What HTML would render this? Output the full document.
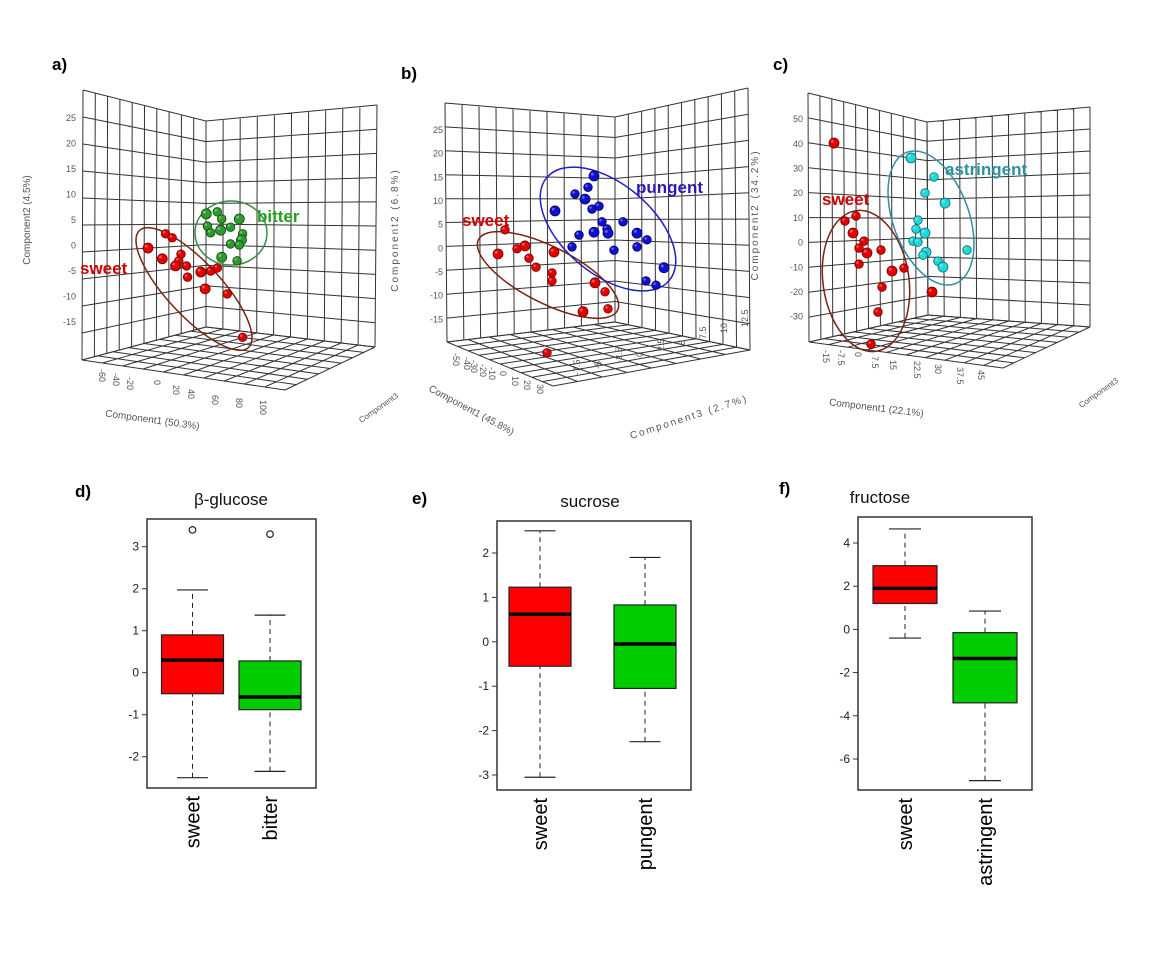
<!DOCTYPE html>
<html><head><meta charset="utf-8"><style>
html,body{margin:0;padding:0;background:#fff;}
svg{display:block;font-family:"Liberation Sans",sans-serif;}
</style></head><body>
<svg id="fig" width="1152" height="960" viewBox="0 0 1152 960" xmlns="http://www.w3.org/2000/svg">
<rect width="1152" height="960" fill="#fff"/>
<g font-weight="bold" font-size="17" fill="#000">
<text x="52" y="70">a)</text>
<text x="401" y="79">b)</text>
<text x="773" y="70">c)</text>
<text x="75" y="497">d)</text>
<text x="412" y="504">e)</text>
<text x="779" y="494">f)</text>
</g>
<g id="layer"></g>
</svg>
<script>
// ---- panel a data ----
const aSweetC1=[0,16,22,13,30,28,25,35,36,48,57,63,52,72,86];
const aSweetC2=[-0.5,2.3,1.5,-2.6,-1.7,-3,-4,-4,-6.2,-5.2,-5,-4.4,-8.5,-9.5,-18];
const aBitterC1=[53,63,67,83,54,57,66,75,86,85,75,83,67,81];
const aBitterC2=[6.2,6.6,5.2,5.2,3.8,2.5,3,3.6,2.3,1.1,0.3,0.1,-2.3,-3];
const aYTicks=[25,20,15,10,5,0,-5,-10,-15];
const aXTicks=[-60,-40,-20,0,20,40,60,80,100];
// ---- panel b data ----
const bSweetC1=[-51,-47.5,-41.5,-37.5,-35.5,-32,-23,-24,-24,-2.5,2.5,4,-8.5,-26.5];
const bSweetC2=[-1.2,3.9,-0.1,0.5,-2.1,-4,-0.8,-5.2,-6.9,-7.3,-9.2,-12.8,-13.4,-22.1];
const bPungC1=[-3,-6,-12.5,-7.5,-4,-0.5,-22.5,1,3.5,4,11.5,-10.5,-3,-14,7,18.5,23.5,18.5,32,23,28];
const bPungC2=[15.3,12.9,11.5,10.4,8.3,8.9,7.9,5.6,4.1,3.2,5.6,2.8,3.4,0.3,-0.4,3.2,1.8,0.3,-4.1,-6.9,-7.8];
const bYTicks=[25,20,15,10,5,0,-5,-10,-15];
const bXTicks=[-50,-40,-30,-20,-10,0,10,20,30];
const bZTicks=[-7.5,-5,-2.5,0,2.5,5,7.5,10,12.5];
// ---- panel c data ----
const cSweetC1=[-23,-17.5,-12,-13.5,-8,-10.5,-6.5,0.5,-10.5,6,12,1,26,-1,-4.5];
const cSweetC2=[40.3,8.7,10.8,3.9,0.6,-2.2,-4.2,-3,-8.7,-11.5,-10.3,-18,-20,-28.1,-41.1];
const cAstrC1=[15.5,27,22.5,32.5,19,18,22.5,16.5,19,23,21.5,29,31.5,43.5];
const cAstrC2=[34.3,26.6,20.1,16,9.1,5.5,3.9,0.6,0.2,-3.9,-5.1,-7.5,-9.9,-3];
const cYTicks=[50,40,30,20,10,0,-10,-20,-30];
const cXTicks=[-15,-7.5,0,7.5,15,22.5,30,37.5,45];
// ---- boxplot data: [lowWhisker,q1,median,q3,highWhisker] ----
const dGroups=["sweet","bitter"];
const dStats=[[-2.5,-0.5,0.3,0.9,1.97],[-2.35,-0.88,-0.58,0.28,1.37]];
const dOutliers=[[3.4],[3.3]];
const dTicks=[-2,-1,0,1,2,3];
const eGroups=["sweet","pungent"];
const eStats=[[-3.05,-0.55,0.62,1.23,2.5],[-2.25,-1.05,-0.05,0.83,1.9]];
const eOutliers=[[],[]];
const eTicks=[-3,-2,-1,0,1,2];
const fGroups=["sweet","astringent"];
const fStats=[[-0.4,1.2,1.9,2.95,4.65],[-7,-3.4,-1.35,-0.15,0.85]];
const fOutliers=[[],[]];
const fTicks=[-6,-4,-2,0,2,4];

const NS="http://www.w3.org/2000/svg";
const layer=document.getElementById('layer');
function mk(tag,attrs,parent){const e=document.createElementNS(NS,tag);for(const k in attrs)e.setAttribute(k,attrs[k]);(parent||layer).appendChild(e);return e;}
function lerp(a,b,t){return [a[0]+(b[0]-a[0])*t,a[1]+(b[1]-a[1])*t];}
function wall(g,p00,p10,p01,p11,nu,nv){
  let d="";
  for(let i=0;i<=nu;i++){const t=i/nu;const a=lerp(p00,p10,t),b=lerp(p01,p11,t);d+=`M${a[0]},${a[1]}L${b[0]},${b[1]}`;}
  for(let j=0;j<=nv;j++){const t=j/nv;const a=lerp(p00,p01,t),b=lerp(p10,p11,t);d+=`M${a[0]},${a[1]}L${b[0]},${b[1]}`;}
  const p=mk('path',{d:d,stroke:'#333','stroke-width':'1',fill:'none'},g);
  
  
}
function ball(g,x,y,r,col,dark){
  const c=mk('circle',{cx:x,cy:y,r:r,fill:col,stroke:dark,'stroke-width':'0.8'},g);
  
  
  mk('circle',{cx:x-r*0.35,cy:y-r*0.35,r:r*0.3,fill:'#fff','fill-opacity':'0.35'},g);
}
function panel3d(cfg){
  const g=mk('g',{});
  
  
  wall(g,cfg.lb,cfg.ib,cfg.lt,cfg.it,10,10);
  wall(g,cfg.ib,cfg.rb,cfg.it,cfg.rt,10,10);
  wall(g,cfg.lb,cfg.fr,cfg.ib,cfg.rb,10,8);
  const xs=v=>cfg.x0+v*cfg.kx, ys=v=>cfg.y0-v*cfg.ky;
  cfg.yTicks.forEach(v=>{const t=mk('text',{x:cfg.tickX,y:ys(v)+3,'font-size':'9','text-anchor':'end',fill:'#555'},g);t.textContent=v;
    });
  cfg.xTickPos.forEach((p,i)=>{const t=mk('text',{x:p[0],y:p[1],'font-size':'9',fill:'#555',transform:`rotate(90 ${p[0]} ${p[1]})`},g);t.textContent=cfg.xTicks[i];
    });
  const ytl=mk('text',{x:cfg.yTitle[0],y:cfg.yTitle[1],'font-size':'10',fill:'#555','text-anchor':'middle','letter-spacing':cfg.ls||'0',transform:`rotate(-90 ${cfg.yTitle[0]} ${cfg.yTitle[1]})`},g);ytl.textContent=cfg.yTitleText;
  
  const xtl=mk('text',{x:cfg.xTitle[0],y:cfg.xTitle[1],'font-size':'10',fill:'#555','text-anchor':'middle',transform:`rotate(${cfg.xRot} ${cfg.xTitle[0]} ${cfg.xTitle[1]})`},g);xtl.textContent=cfg.xTitleText;
  
  cfg.groups.forEach(gr=>{
    const e=mk('ellipse',{cx:gr.ell[0],cy:gr.ell[1],rx:gr.ell[2],ry:gr.ell[3],transform:`rotate(${gr.ell[4]} ${gr.ell[0]} ${gr.ell[1]})`,fill:'none',stroke:gr.ellCol,'stroke-width':'1.5'},g);
    
    gr.c1.forEach((v,i)=>ball(g,xs(v),ys(gr.c2[i]),i%3==0?5:4.3,gr.col,gr.dark));
    const t=mk('text',{x:gr.lab[0],y:gr.lab[1],'font-size':'17','font-weight':'bold',fill:gr.labCol},g);t.textContent=gr.label;
    
  });
}
panel3d({name:'pca-plot-a',lb:[82,360],ib:[206,327],lt:[83,90],it:[206,121],rb:[375,347],rt:[377,105],fr:[285,390],
  x0:148,kx:1.1,y0:245.5,ky:5.1,yTicks:aYTicks,tickX:76,
  xTicks:aXTicks,xTickPos:[[99,369],[113,373],[127,377],[154,380],[173,385],[188,389],[212,395],[236,398],[260,400]],
  yTitle:[30,220],yTitleText:'Component2 (4.5%)',xTitle:[152,423],xTitleText:'Component1 (50.3%)',xRot:8,
  groups:[{c1:aSweetC1,c2:aSweetC2,col:'#e00000',dark:'#700',ell:[194,289,80,27,47],ellCol:'#7a2210',lab:[80,274],labCol:'#cc0000',label:'sweet'},
          {c1:aBitterC1,c2:aBitterC2,col:'#2e9a2e',dark:'#0a4a0a',ell:[231,233,36,32,0],ellCol:'#3a8a4a',lab:[257,222],labCol:'#22a022',label:'bitter'}]});
panel3d({name:'pca-plot-b',lb:[447,342],ib:[615,322],lt:[445,103],it:[615,117],rb:[750,350],rt:[748,88],fr:[553,386],
  x0:600,kx:2,y0:248.3,ky:4.73,yTicks:bYTicks,tickX:443,ls:'2',
  xTicks:bXTicks,xTickPos:[[453,353],[464,357],[471,360],[480,364],[489,367],[500,371],[512,376],[524,380],[537,384]],
  yTitle:[398,230],yTitleText:'Component2 (6.8%)',xTitle:[470,413],xTitleText:'Component1 (45.8%)',xRot:28,
  groups:[{c1:bSweetC1,c2:bSweetC2,col:'#e00000',dark:'#700',ell:[548,275,78,28,27],ellCol:'#7a2210',lab:[462,226],labCol:'#cc0000',label:'sweet'},
          {c1:bPungC1,c2:bPungC2,col:'#1010d0',dark:'#000060',ell:[608,229,80,45,40],ellCol:'#2020c0',lab:[636,193],labCol:'#2a1ab8',label:'pungent'}]});
panel3d({name:'pca-plot-c',lb:[809,342],ib:[928,315],lt:[808,93],it:[927,122],rb:[1090,327],rt:[1090,107],fr:[1003,368],
  x0:880,kx:2,y0:242.6,ky:2.47,yTicks:cYTicks,tickX:803,
  xTicks:cXTicks,xTickPos:[[823,350],[838,350],[855,352],[872,356],[890,360],[914,361],[935,364],[957,367],[978,370]],
  yTitle:[1192,0],yTitleText:'',xTitle:[876,411],xTitleText:'Component1 (22.1%)',xRot:7,
  groups:[{c1:cSweetC1,c2:cSweetC2,col:'#e00000',dark:'#700',ell:[866,281,43,71,-8],ellCol:'#7a2210',lab:[822,205],labCol:'#cc0000',label:'sweet'},
          {c1:cAstrC1,c2:cAstrC2,col:'#20d8d8',dark:'#0a6a7a',ell:[931,218,38,70,-20],ellCol:'#2e8fa0',lab:[945,175],labCol:'#2e8fa0',label:'astringent'}]});
[['Component2 (34.2%)',758,215,-90,'y-axis-title-b-right'],['Component3 (2.7%)',690,420,-18,'z-axis-title-b']].forEach(a=>{
  const t=mk('text',{x:a[1],y:a[2],'font-size':'10','letter-spacing':'2',fill:'#555','text-anchor':'middle',transform:`rotate(${a[3]} ${a[1]} ${a[2]})`});t.textContent=a[0];
  });
[[380,410],[1100,395]].forEach(p=>{const t=mk('text',{x:p[0],y:p[1],'font-size':'8',fill:'#555','text-anchor':'middle',transform:`rotate(-35 ${p[0]} ${p[1]})`});t.textContent='Component3';
  });
bZTicks.forEach((v,i)=>{const x=580+i*21,y=375-i*6;const t=mk('text',{x:x,y:y,'font-size':'9',fill:'#555',transform:`rotate(-90 ${x} ${y})`});t.textContent=v;
  });

function boxplot(cfg){
  const g=mk('g',{});
  
  
  const ys=v=>cfg.y0-v*cfg.ky;
  const fr=mk('rect',{x:cfg.fx0,y:cfg.fy0,width:cfg.fx1-cfg.fx0,height:cfg.fy1-cfg.fy0,fill:'none',stroke:'#333','stroke-width':'1.5'},g);
  
  mk('line',{x1:cfg.fx0,x2:cfg.fx0,y1:ys(cfg.ticks[0]),y2:ys(cfg.ticks[cfg.ticks.length-1]),stroke:'#333'},g);
  cfg.ticks.forEach(v=>{mk('line',{x1:cfg.fx0-5,x2:cfg.fx0,y1:ys(v),y2:ys(v),stroke:'#333'},g);
    const t=mk('text',{x:cfg.fx0-8,y:ys(v)+4,'font-size':'12','text-anchor':'end',fill:'#222'},g);t.textContent=v;
    });
  const tt=mk('text',{x:cfg.titleX,y:cfg.fy0-14,'font-size':'17','text-anchor':'middle',fill:'#111'},g);tt.textContent=cfg.title;
  
  cfg.stats.forEach((s,i)=>{
    const cx=cfg.cx[i],hw=cfg.hw,col=i==0?'#ff0000':'#00cc00';
    mk('line',{x1:cx,x2:cx,y1:ys(s[0]),y2:ys(s[1]),stroke:'#222','stroke-dasharray':'5,4'},g);
    mk('line',{x1:cx,x2:cx,y1:ys(s[3]),y2:ys(s[4]),stroke:'#222','stroke-dasharray':'5,4'},g);
    mk('line',{x1:cx-hw/2,x2:cx+hw/2,y1:ys(s[0]),y2:ys(s[0]),stroke:'#222','stroke-width':'1.2'},g);
    mk('line',{x1:cx-hw/2,x2:cx+hw/2,y1:ys(s[4]),y2:ys(s[4]),stroke:'#222','stroke-width':'1.2'},g);
    const b=mk('rect',{x:cx-hw,y:ys(s[3]),width:hw*2,height:ys(s[1])-ys(s[3]),fill:col,stroke:'#222','stroke-width':'1.2'},g);
    
    mk('line',{x1:cx-hw,x2:cx+hw,y1:ys(s[2]),y2:ys(s[2]),stroke:'#000','stroke-width':'3.5'},g);
    cfg.outliers[i].forEach(o=>{const c=mk('circle',{cx:cx,cy:ys(o),r:3.3,fill:'none',stroke:'#222','stroke-width':'1.2'},g);
      });
    const lx=cx+7,ly=cfg.fy1+8;
    const t=mk('text',{x:lx,y:ly,'font-size':'20','text-anchor':'end',fill:'#000',transform:`rotate(-90 ${lx} ${ly})`},g);t.textContent=cfg.groups[i];
    
  });
}
boxplot({name:'boxplot-beta-glucose',fx0:147,fx1:316,fy0:519,fy1:788,y0:672.7,ky:42,ticks:dTicks,stats:dStats,outliers:dOutliers,groups:dGroups,cx:[192.5,270],hw:31,title:'β-glucose',titleX:231});
boxplot({name:'boxplot-sucrose',fx0:497,fx1:691,fy0:521,fy1:790,y0:641.8,ky:44.4,ticks:eTicks,stats:eStats,outliers:eOutliers,groups:eGroups,cx:[540,645],hw:31,title:'sucrose',titleX:590});
boxplot({name:'boxplot-fructose',fx0:858,fx1:1032,fy0:517,fy1:790,y0:629.4,ky:21.6,ticks:fTicks,stats:fStats,outliers:fOutliers,groups:fGroups,cx:[905,985],hw:32,title:'fructose',titleX:880});
</script>
</body></html>
